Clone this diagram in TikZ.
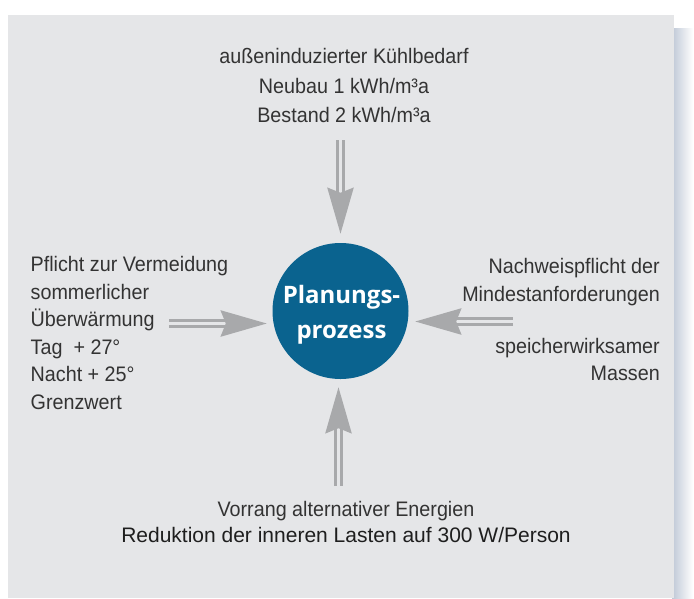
\documentclass[tikz,border=0pt]{standalone}
\usepackage{fontspec}
\setmainfont{Liberation Sans}
\newfontfamily\bodyfont{Liberation Sans}[FakeStretch=0.94]
\newfontfamily\redfont{Liberation Sans}
\newfontfamily\titlefont{Open Sans}
\usetikzlibrary{arrows.meta}
\definecolor{bggray}{HTML}{E5E6E8}
\definecolor{arrgray}{HTML}{A8A9AB}
\definecolor{circblue}{HTML}{0A638F}
\definecolor{txtcol}{HTML}{333333}
\definecolor{redcol}{HTML}{1E1E1E}
\definecolor{shadowcol}{HTML}{BFC8D6}
\begin{document}
\begin{tikzpicture}[x=1pt,y=-1pt,
  txt/.style={font=\bodyfont\fontsize{21}{21}\selectfont, text=txtcol, inner sep=0pt, anchor=base},
  txtl/.style={txt, anchor=base west},
  txtr/.style={txt, anchor=base east},
  redtxt/.style={font=\redfont\fontsize{21}{21}\selectfont, text=redcol, inner sep=0pt, anchor=base},
  titletxt/.style={text=white, align=center, inner sep=0pt,
    font=\titlefont\bfseries\fontsize{24}{35}\selectfont},
  dblarrow/.style={draw=arrgray, double=bggray, line width=3.6pt, double distance=2.6pt,
    -{Stealth[length=46pt,width=26pt,inset=5pt]}}
]
\useasboundingbox (0,0) rectangle (694,598);
\fill[white] (0,0) rectangle (694,598);
\shade[left color=shadowcol, right color=white] (672,28) rectangle (693,598);
\fill[bggray] (8,15) rectangle (674,598);

% centre
\node[circle, fill=circblue, minimum size=136pt, inner sep=0pt] (circ) at (340.5,311) {};
\node[titletxt] (title) at (341.5,315) {Planungs-\\prozess};

% top
\node[txt] (t1) at (344,63) {außeninduzierter Kühlbedarf};
\node[txt] (t2) at (344,93) {Neubau 1 kWh/m³a};
\node[txt] (t3) at (344,122) {Bestand 2 kWh/m³a};

% left
\node[txtl] (l1) at (30.5,271) {Pflicht zur Vermeidung};
\node[txtl] (l2) at (30.5,299) {sommerlicher};
\node[txtl] (l3) at (30.5,326.5) {Überwärmung};
\node[txtl] (l4) at (30.5,354) {Tag\hspace{11pt}+ 27°};
\node[txtl] (l5) at (30.5,381.5) {Nacht + 25°};
\node[txtl] (l6) at (30.5,409) {Grenzwert};

% right
\node[txtr] (r1) at (660,273) {Nachweispflicht der};
\node[txtr] (r2) at (660,301) {Mindestanforderungen};
\node[txtr] (r3) at (660,353) {speicherwirksamer};
\node[txtr] (r4) at (660,380) {Massen};

% bottom
\node[txt] (b1) at (346,516) {Vorrang alternativer Energien};
\node[redtxt] (b2) at (346,542) {Reduktion der inneren Lasten auf 300 W/Person};

% arrows
\coordinate (ts) at (340.5,140);
\coordinate (bs) at (338.5,486);
\coordinate (ls) at (169,323.5);
\coordinate (rs) at (513,321.5);
\draw[dblarrow, shorten >=9pt] (ts) -- (ts |- circ.north);
\draw[dblarrow, shorten >=8pt] (bs) -- (bs |- circ.south);
\draw[dblarrow, shorten >=5.5pt] (ls) -- (circ.west |- ls);
\draw[dblarrow, shorten >=6.5pt] (rs) -- (circ.east |- rs);
\end{tikzpicture}
\end{document}
